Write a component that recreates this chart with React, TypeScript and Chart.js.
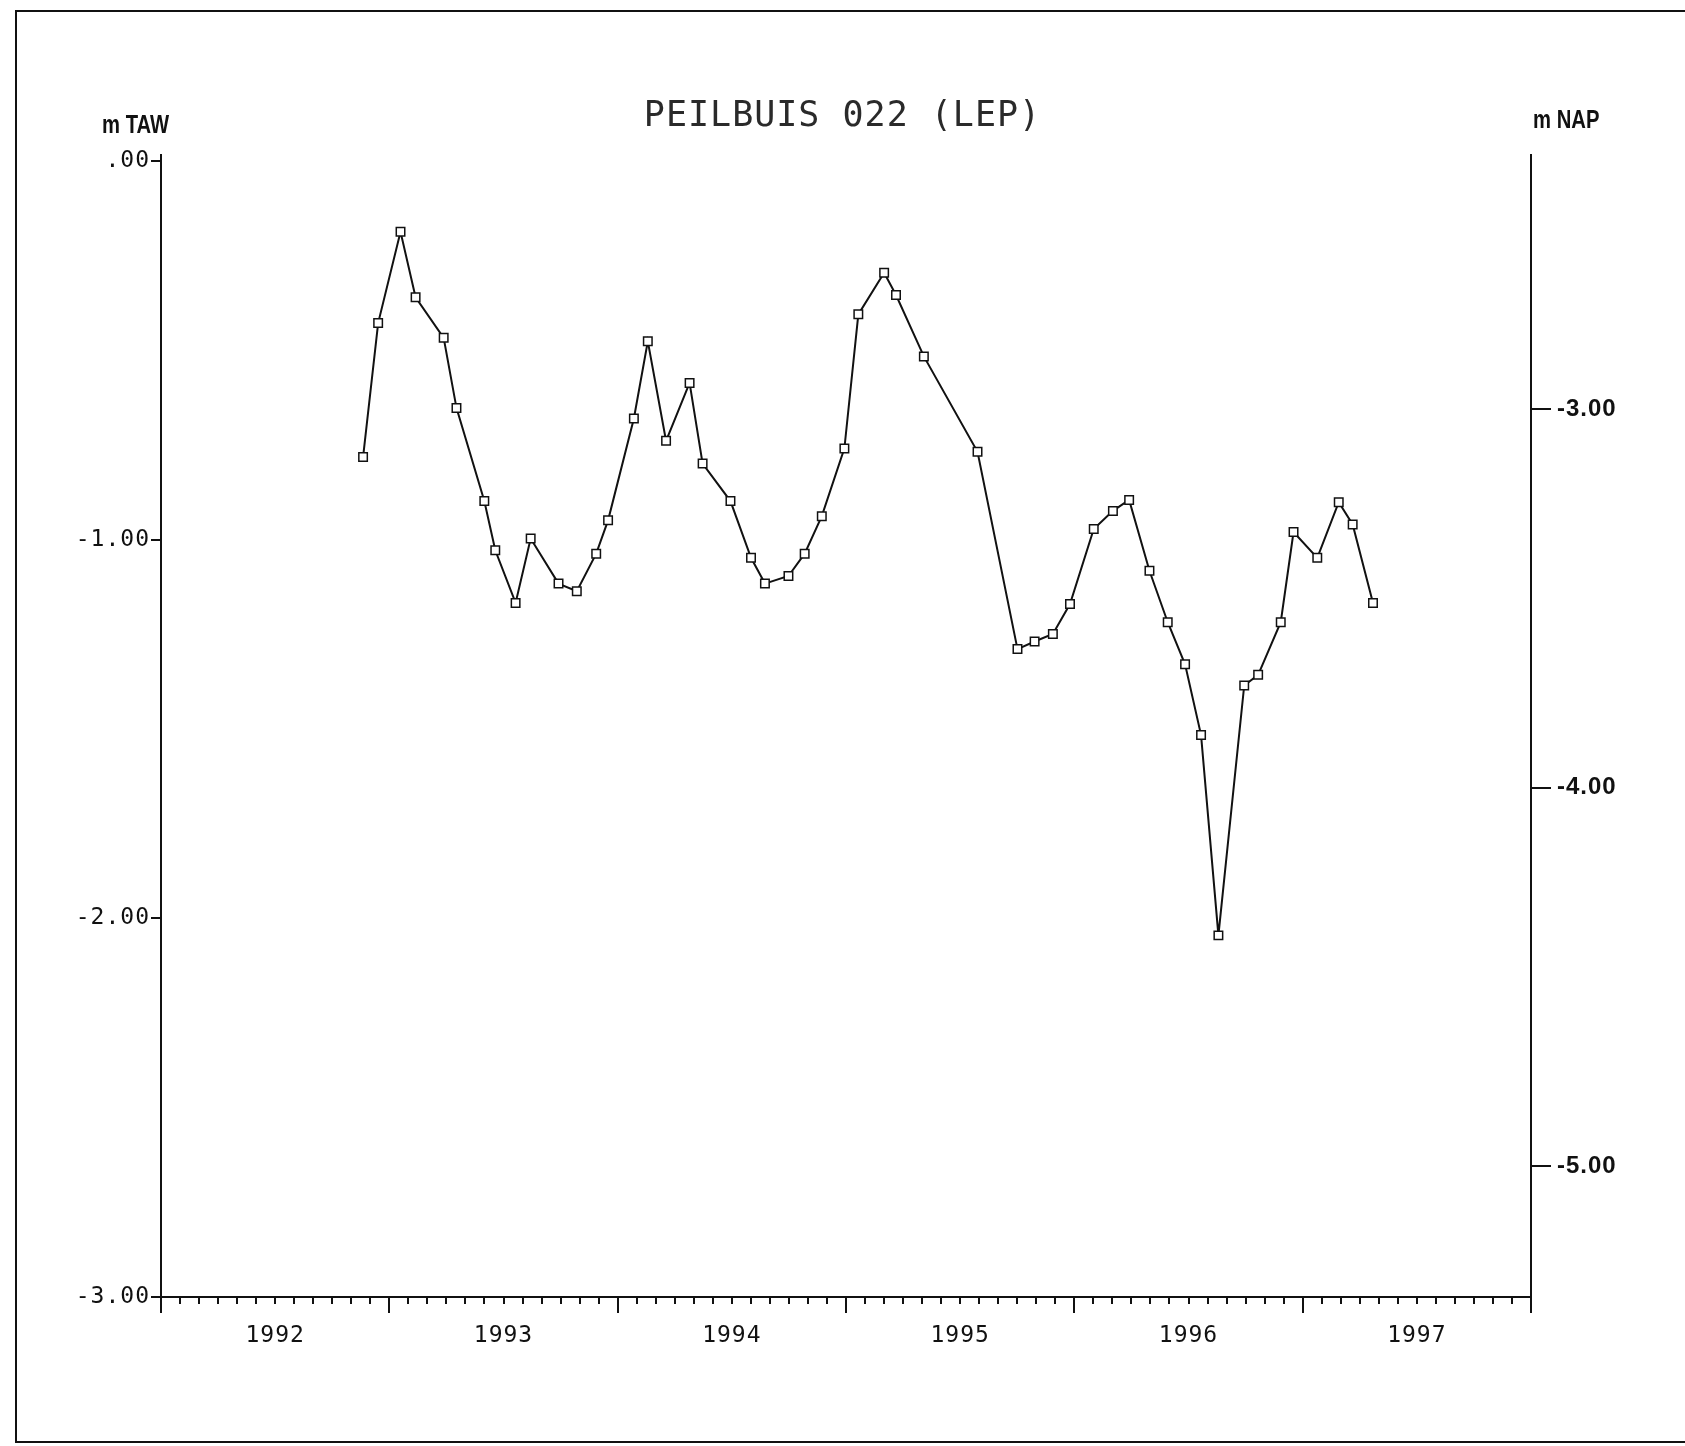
import React, { useEffect, useRef } from "react";
import { Chart, registerables } from "chart.js";

Chart.register(...registerables);

const titleText = "PEILBUIS 022 (LEP)";
const leftUnit = "m TAW";
const rightUnit = "m NAP";
const yearLabels = [1992, 1993, 1994, 1995, 1996, 1997];
const leftTicks = [0, -1, -2, -3];
const rightTicks = [-3, -4, -5];

// decimal year of each measurement
const dates = [
  1992.885, 1992.951, 1993.049, 1993.115, 1993.238, 1993.294, 1993.416, 1993.464,
  1993.553, 1993.619, 1993.741, 1993.821, 1993.906, 1993.958, 1994.071, 1994.132,
  1994.212, 1994.315, 1994.372, 1994.494, 1994.584, 1994.645, 1994.748, 1994.819,
  1994.894, 1994.993, 1995.054, 1995.167, 1995.219, 1995.341, 1995.576, 1995.751,
  1995.826, 1995.906, 1995.981, 1996.085, 1996.169, 1996.24, 1996.329, 1996.409,
  1996.485, 1996.555, 1996.631, 1996.744, 1996.805, 1996.904, 1996.96, 1997.064,
  1997.158, 1997.219, 1997.308,
];
// water level, m TAW
const levels = [
  -0.782, -0.428, -0.187, -0.36, -0.467, -0.652, -0.898, -1.028,
  -1.167, -0.997, -1.116, -1.136, -1.037, -0.949, -0.68, -0.476,
  -0.739, -0.586, -0.799, -0.898, -1.048, -1.116, -1.096, -1.037,
  -0.938, -0.759, -0.405, -0.295, -0.354, -0.516, -0.768, -1.289,
  -1.269, -1.249, -1.17, -0.972, -0.924, -0.895, -1.082, -1.218,
  -1.329, -1.516, -2.045, -1.385, -1.357, -1.218, -0.98, -1.048,
  -0.901, -0.96, -1.167,
];

const NAP_OFFSET = 2.345; // m NAP = m TAW - offset

const monoFont = "'DejaVu Sans Mono', 'Liberation Mono', monospace";
const sansFont = "'Liberation Sans', Arial, sans-serif";

const spacingPlugin = {
  id: "spacing",
  beforeDraw(chart: any) {
    (chart.ctx as any).letterSpacing = "1px";
  },
};

const decorPlugin = {
  id: "decor",
  afterDraw(chart: any) {
    const ctx = chart.ctx;
    const xs = chart.scales.x;
    const area = chart.chartArea;
    ctx.save();
    (ctx as any).letterSpacing = "0px";
    ctx.strokeStyle = "#111";
    ctx.lineWidth = 2;
    // monthly ticks on the time axis
    for (let m = 0; m <= 72; m++) {
      const px = Math.round(xs.getPixelForValue(1992 + m / 12));
      const len = m % 12 === 0 ? 16 : 7;
      ctx.beginPath();
      ctx.moveTo(px, area.bottom);
      ctx.lineTo(px, area.bottom + len);
      ctx.stroke();
    }
    // axis line extensions
    ctx.beginPath();
    ctx.moveTo(area.left, area.top - 7);
    ctx.lineTo(area.left, area.bottom + 16);
    ctx.moveTo(area.right, area.top - 7);
    ctx.lineTo(area.right, area.bottom + 8);
    ctx.stroke();
    // frame
    ctx.strokeRect(16, 11, 1700, 1431);
    // unit labels (condensed)
    ctx.fillStyle = "#111";
    ctx.font = `bold 25px ${sansFont}`;
    ctx.textBaseline = "middle";
    ctx.textAlign = "left";
    ctx.save();
    ctx.translate(102, 126);
    ctx.scale(0.81, 1);
    ctx.fillText(leftUnit, 0, 0);
    ctx.restore();
    ctx.save();
    ctx.translate(1533, 121);
    ctx.scale(0.81, 1);
    ctx.fillText(rightUnit, 0, 0);
    ctx.restore();
    ctx.restore();
  },
};

export default function App() {
  const ref = useRef<HTMLCanvasElement>(null);
  useEffect(() => {
    if (!ref.current) return;
    const chart = new Chart(ref.current, {
      type: "line",
      data: {
        datasets: [
          {
            data: dates.map((d, i) => ({ x: d, y: levels[i] })),
            borderColor: "#111",
            borderWidth: 2,
            backgroundColor: "#fff",
            pointStyle: "rect",
            pointRadius: 6,
            pointBorderWidth: 1.5,
            pointBorderColor: "#111",
            pointBackgroundColor: "#fff",
            tension: 0,
            yAxisID: "y",
          },
        ],
      },
      options: {
        responsive: false,
        animation: false,
        layout: { padding: { top: 95.5, left: 0, right: 0, bottom: 0 } },
        plugins: {
          legend: { display: false },
          tooltip: { enabled: false },
          title: {
            display: true,
            text: titleText,
            color: "#2a2a2a",
            font: { family: monoFont, size: 35, weight: "normal", lineHeight: 1.2 },
            padding: { top: 0, bottom: 23.5 },
          },
        },
        scales: {
          x: {
            type: "linear",
            position: "bottom",
            min: 1992,
            max: 1998,
            grid: { display: false, drawTicks: false },
            border: { display: true, color: "#111", width: 2 },
            afterBuildTicks: (s: any) => {
              s.ticks = yearLabels.map((y) => ({ value: y + 0.5 }));
            },
            ticks: {
              autoSkip: false,
              maxRotation: 0,
              color: "#111",
              padding: 25,
              font: { family: monoFont, size: 23 },
              callback: (v: any) => String(Math.floor(Number(v))),
            },
            afterFit: (s: any) => {
              s.height = 149;
            },
          },
          y: {
            type: "linear",
            position: "left",
            min: -3,
            max: 0,
            afterBuildTicks: (s: any) => {
              s.ticks = leftTicks.map((v) => ({ value: v }));
            },
            grid: {
              display: true,
              drawOnChartArea: false,
              drawTicks: true,
              tickLength: 10,
              color: "#111",
              lineWidth: 2,
            },
            border: { display: true, color: "#111", width: 2 },
            ticks: {
              color: "#111",
              padding: 1,
              font: { family: monoFont, size: 23 },
              callback: (v: any) => (Number(v) === 0 ? ".00" : Number(v).toFixed(2)),
            },
            afterFit: (s: any) => {
              s.width = 161;
            },
          },
          y2: {
            type: "linear",
            position: "right",
            min: -3 - NAP_OFFSET,
            max: 0 - NAP_OFFSET,
            afterBuildTicks: (s: any) => {
              s.ticks = rightTicks.map((v) => ({ value: v }));
            },
            grid: {
              display: true,
              drawOnChartArea: false,
              drawTicks: true,
              tickLength: 20,
              color: "#111",
              lineWidth: 2,
            },
            border: { display: true, color: "#111", width: 2 },
            ticks: {
              color: "#111",
              padding: 6,
              font: { family: sansFont, size: 24, weight: "bold" },
              callback: (v: any) => Number(v).toFixed(2),
            },
            afterFit: (s: any) => {
              s.width = 154;
            },
          },
        },
      },
      plugins: [spacingPlugin, decorPlugin],
    });
    return () => chart.destroy();
  }, []);
  return (
    <div style={{ position: "absolute", left: 0, top: 0, width: 1685, height: 1446, background: "#fff" }}>
      <canvas ref={ref} width={1685} height={1446} />
    </div>
  );
}
